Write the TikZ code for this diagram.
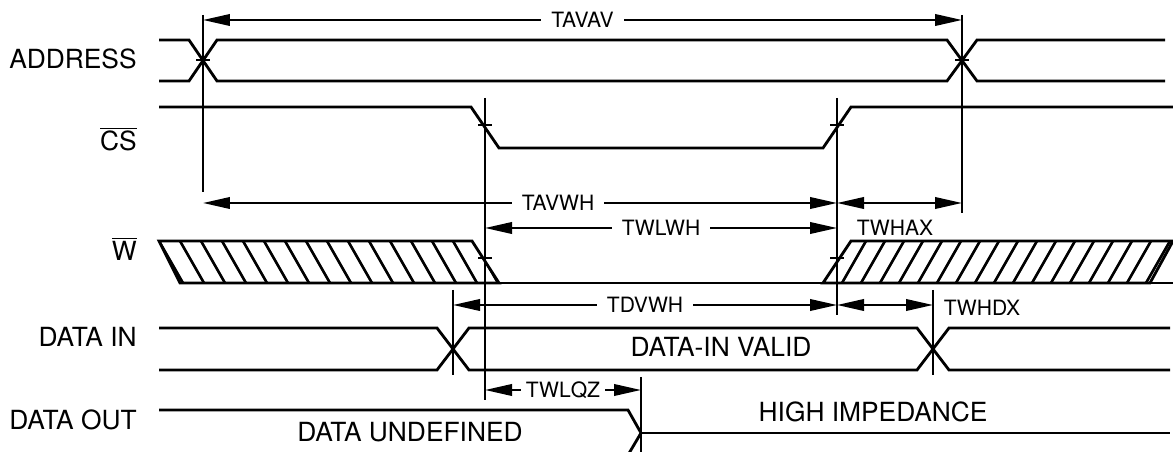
\documentclass[tikz,border=0pt]{standalone}
\usepackage{fontspec}
\setmainfont{TeX Gyre Heros}
\usetikzlibrary{arrows.meta,calc}

\tikzset{
  sig/.style={line width=1.6pt},
  vline/.style={line width=1pt},
  hatch/.style={line width=1.5pt},
  dim/.style={line width=1.2pt,
    {Triangle[length=0.54cm,width=0.23cm]}-{Triangle[length=0.54cm,width=0.23cm]}},
  signame/.style={anchor=east, inner sep=0pt, font=\fontsize{15}{18}\selectfont},
  tlabel/.style={fill=white, inner xsep=0.2cm, inner ysep=1pt, font=\fontsize{12}{14}\selectfont},
  statetxt/.style={inner sep=0pt, font=\fontsize{15}{18}\selectfont}
}

\begin{document}
\begin{tikzpicture}[x=0.02cm,y=-0.02cm]
    \useasboundingbox (0,0) rectangle (1173,452);
    \clip (0,0) rectangle (1173,452);
    %Time marks
    \coordinate (ta) at (203,0);
    \coordinate (te) at (453,0);
    \coordinate (tb) at (485,0);
    \coordinate (tg) at (641,0);
    \coordinate (tc) at (837,0);
    \coordinate (tf) at (933,0);
    \coordinate (td) at (962,0);

    %Signal names
    \node[signame] (addr) at (137,59) {ADDRESS};
    \node[signame] (cs) at (137,139) {$\overline{\mbox{CS}}$};
    \node[signame] (we) at (137,249) {$\overline{\mbox{W}}$};
    \node[signame] (din) at (137,337) {DATA IN};
    \node[signame] (dout) at (137,420) {DATA OUT};

    %ADDRESS
    \draw[sig] (159,40) -- (189,40) -- (217,81) -- (947,81) -- (977,40) -- (1165,40);
    \draw[sig] (159,81) -- (189,81) -- (217,40) -- (947,40) -- (977,81) -- (1165,81);
    %CS
    \draw[sig] (159,107) -- (471,107) -- (499,148) -- (823,148) -- (851,107) -- (1173,107);
    %W, don't care before and after
    \begin{scope}
      \clip (159,241) -- (472,241) -- (499,283) -- (180,283) -- cycle;
      \foreach \x in {159,180,...,500} \draw[hatch] (\x,241) -- ++(24,42);
    \end{scope}
    \draw[sig] (159,241) -- (472,241) -- (499,283) -- (180,283) -- cycle;
    \begin{scope}
      \clip (823,283) -- (851,241) -- (1173,241) -- (1150,283) -- cycle;
      \foreach \x in {823,842,...,1180} \draw[hatch] (\x,283) -- ++(24,-42);
    \end{scope}
    \draw[sig] (823,283) -- (851,241) -- (1173,241) -- (1150,283) -- cycle;
    \draw[sig] (499,283) -- (823,283);
    \draw[sig] (1150,283) -- (1173,283);
    %DATA IN
    \draw[sig] (159,328) -- (437,328) -- (469,370) -- (917,370) -- (949,328) -- (1170,328);
    \draw[sig] (159,370) -- (437,370) -- (469,328) -- (917,328) -- (949,370) -- (1170,370);
    \node[statetxt] (valid) at (721,347) {DATA-IN VALID};
    %DATA OUT
    \draw[sig] (159,410) -- (628,410) -- (641,433) -- (628,455) -- (159,455);
    \draw[sig] (641,433) -- (1170,433);
    \node[statetxt] (undef) at (410,432) {DATA UNDEFINED};
    \node[statetxt] (hiz) at (873,412) {HIGH IMPEDANCE};

    %Reference lines
    \draw[vline] ($(ta)+(0,15)$) -- ($(ta)+(0,192)$);
    \draw[vline] ($(td)+(0,15)$) -- ($(td)+(0,213)$);
    \draw[vline] ($(tb)+(0,98)$) -- ($(tb)+(0,400)$);
    \draw[vline] ($(tc)+(0,98)$) -- ($(tc)+(0,315)$);
    \draw[vline] ($(te)+(0,290)$) -- ($(te)+(0,375)$);
    \draw[vline] ($(tf)+(0,290)$) -- ($(tf)+(0,375)$);
    \draw[vline] ($(tg)+(0,377)$) -- ($(tg)+(0,452)$);
    %Crossing ticks
    \foreach \t/\y in {ta/60,td/60,tb/125,tc/125,tb/258,tc/258}
      \draw[vline] ($(\t)+(-7,\y)$) -- ($(\t)+(7,\y)$);

    %Timing arrows
    \draw[dim] ($(ta)+(0,20)$) -- node[tlabel] (tavav) {TAVAV} ($(td)+(0,20)$);
    \draw[dim] ($(ta)+(0,203)$) -- node[tlabel,pos=.56] (tavwh) {TAVWH} ($(tc)+(0,203)$);
    \draw[dim] ($(tc)+(0,203)$) -- ($(td)+(0,203)$);
    \node[tlabel,fill=none] (twhax) at (895,228) {TWHAX};
    \draw[dim] ($(tb)+(0,228)$) -- node[tlabel] (twlwh) {TWLWH} ($(tc)+(0,228)$);
    \draw[dim] ($(te)+(0,305)$) -- node[tlabel] (tdvwh) {TDVWH} ($(tc)+(0,305)$);
    \draw[dim] ($(tc)+(0,305)$) -- ($(tf)+(0,305)$);
    \node[tlabel,fill=none] (twhdx) at (982,308) {TWHDX};
    \draw[dim] ($(tb)+(0,390)$) -- node[tlabel,inner xsep=3pt] (twlqz) {TWLQZ} ($(tg)+(0,390)$);
\end{tikzpicture}
\end{document}
